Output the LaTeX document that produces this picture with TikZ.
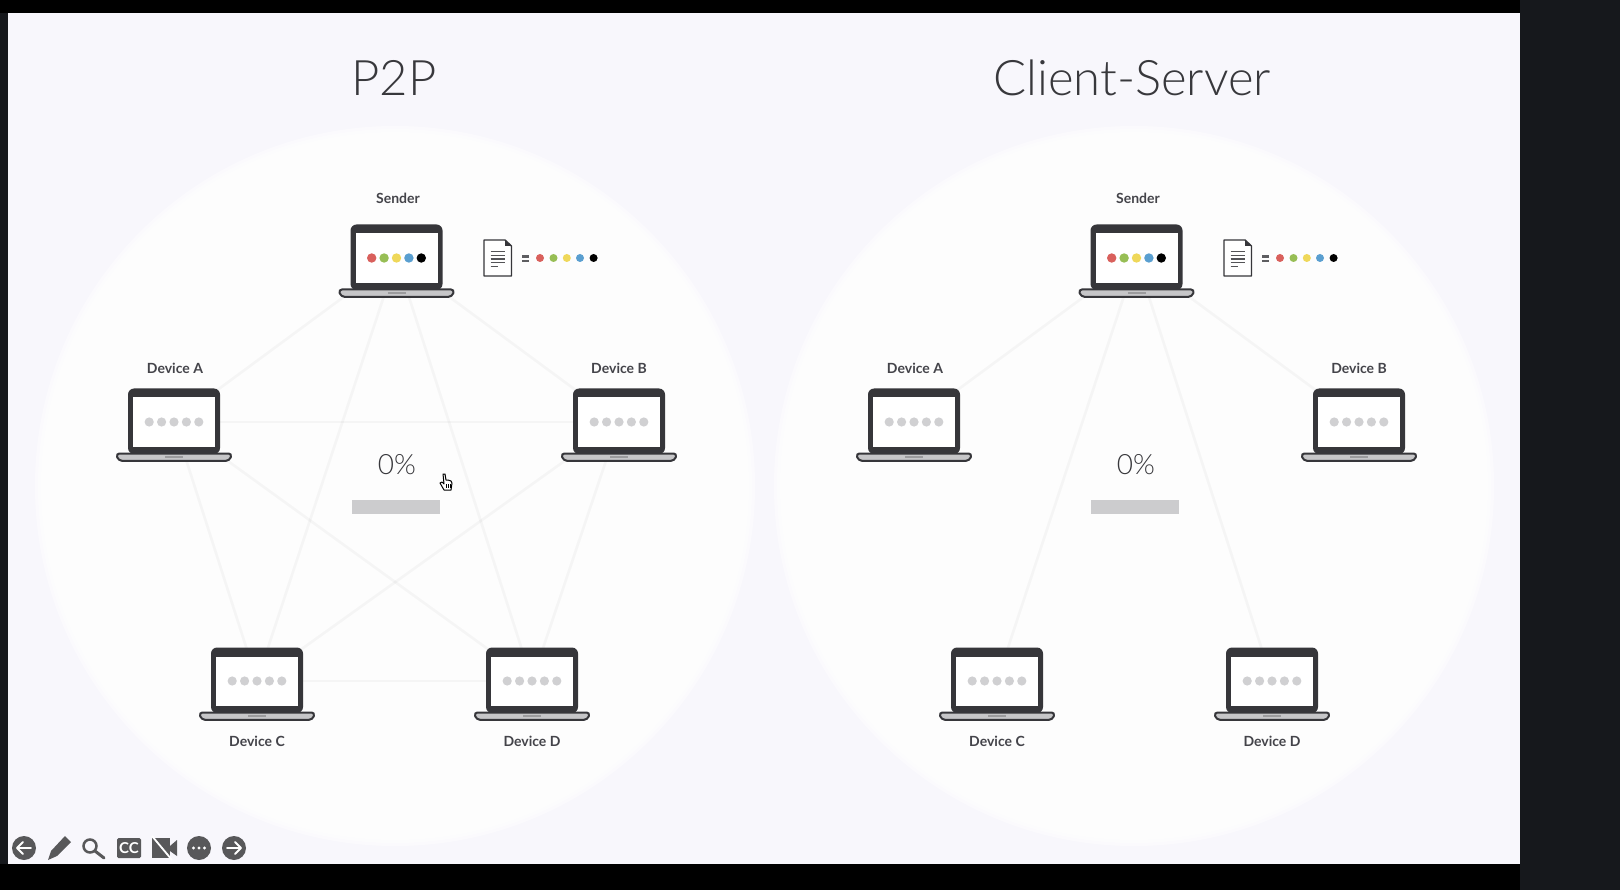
\documentclass[tikz,border=0pt]{standalone}
\usepackage{fontspec}
\setmainfont{Lato}
\newfontfamily\lightfont{Lato Light}
\usetikzlibrary{calc}
\definecolor{slidebg}{HTML}{F8F7FC}
\definecolor{discc}{HTML}{FFFFFF}
\definecolor{sidebar}{HTML}{16181C}
\definecolor{ink}{HTML}{38383C}
\definecolor{labelc}{HTML}{44444A}
\definecolor{frame}{HTML}{36363A}
\definecolor{basec}{HTML}{C6C6C8}
\definecolor{barc}{HTML}{CCCCCE}
\definecolor{dotgrey}{HTML}{D0D0D2}
\definecolor{dred}{HTML}{D9605C}
\definecolor{dgreen}{HTML}{97BE55}
\definecolor{dyellow}{HTML}{EFD85A}
\definecolor{dblue}{HTML}{5A9FD0}
\definecolor{tool}{HTML}{58585A}
\tikzset{
  x=1pt,y=-1pt,
  anchorpt/.style={inner sep=0pt,minimum size=0pt},
  edgeline/.style={draw=black!70,opacity=.042,line width=2.6pt},
  devlabel/.style={font=\fontsize{14}{15}\selectfont\bfseries,text=labelc,inner sep=0pt,anchor=center},
  heading/.style={font=\lightfont\fontsize{49}{55}\selectfont,text=ink,inner sep=0pt,anchor=center},
  pct/.style={font=\lightfont\fontsize{28}{30}\selectfont,text=ink,inner sep=0pt,anchor=center},
  barbox/.style={fill=barc,draw=none,minimum width=88pt,minimum height=14pt,inner sep=0pt},
  pics/laptop/.style={code={
    \fill[frame,rounded corners=6pt] (-46,-33.5) -- (46,-33.5) -- (46,32) -- (-46,32) -- cycle;
    \fill[white] (-41,-24.5) rectangle (41,25);
    \filldraw[fill=basec,draw=frame,line width=2pt,rounded corners=3.5pt] (-58,31.5) -- (58,31.5) -- (55.5,38.8) -- (-55.5,38.8) -- cycle;
    \draw[frame!50,line width=1.2pt] (-9,35) -- (9,35);
  }},
  pics/greydots/.style={code={
    \foreach \i in {-2,-1,0,1,2} \fill[dotgrey] (\i*12.4,0) circle (4.6);
  }},
  pics/colordots/.style={code={
    \fill[dred] (-24.8,0) circle (4.7); \fill[dgreen] (-12.4,0) circle (4.7);
    \fill[dyellow] (0,0) circle (4.7); \fill[dblue] (12.4,0) circle (4.7);
    \fill[black] (24.8,0) circle (4.7);
  }},
  pics/legend/.style={code={
    \draw[fill=white,draw=frame,line width=1.4pt,line join=round] (0,0) -- (21,0) -- (27.5,6) -- (27.5,36) -- (0,36) -- cycle;
    \fill[frame] (21,0) -- (27.5,6) -- (21,6) -- cycle;
    \foreach \y/\w in {11.5/20.5,15.3/20.5,19.1/20.5,22.9/20.5,26.7/13.5} \draw[frame!85,line width=1.2pt] (6.5,\y) -- (\w,\y);
    \fill[frame!80] (37.5,15.5) rectangle (44.5,17.6);
    \fill[frame!80] (37.5,19.6) rectangle (44.5,21.7);
    \fill[dred] (56,18) circle (4); \fill[dgreen] (69.5,18) circle (4);
    \fill[dyellow] (82.8,18) circle (4); \fill[dblue] (96,18) circle (4);
    \fill[black] (109.6,18) circle (4);
  }},
}
\begin{document}
\begin{tikzpicture}
\useasboundingbox (0,0) rectangle (1620,890);
% page frame
\fill[black] (0,0) rectangle (1620,890);
\fill[sidebar] (1520,0) rectangle (1620,890);
\fill[sidebar] (0,13) rectangle (8,864);
\fill[slidebg] (8,13) rectangle (1520,864);
% soft-edged discs
\foreach \c in {395,1134}{
  \foreach \r in {360,357,354,351,348,345}
    \fill[discc,opacity=.45] (\c,486) circle (\r);
}
% titles
\node[heading] (t1) at (394,78) {P2P};
\node[heading] (t2) at (1132,78) {Client-Server};
% device anchors, left panel
\node[anchorpt] (ls) at (396.5,258) {};
\node[anchorpt] (la) at (174,422) {};
\node[anchorpt] (lb) at (619,422) {};
\node[anchorpt] (lc) at (257,681) {};
\node[anchorpt] (ld) at (532,681) {};
% device anchors, right panel
\node[anchorpt] (rs) at (1136.5,258) {};
\node[anchorpt] (ra) at (914,422) {};
\node[anchorpt] (rb) at (1359,422) {};
\node[anchorpt] (rc) at (997,681) {};
\node[anchorpt] (rd) at (1272,681) {};
% connectors
\foreach \a/\b in {ls/la,ls/lb,ls/lc,ls/ld,la/lb,la/lc,la/ld,lb/lc,lb/ld,lc/ld,rs/ra,rs/rb,rs/rc,rs/rd}
  \draw[edgeline] (\a) -- (\b);
% laptops
\foreach \n in {ls,la,lb,lc,ld,rs,ra,rb,rc,rd}{
  \pic at (\n) {laptop};
}
\foreach \n in {la,lb,lc,ld,ra,rb,rc,rd} \pic at (\n) {greydots};
\pic at (ls) {colordots};
\pic at (rs) {colordots};
\pic at (484,240) {legend};
\pic at (1224,240) {legend};
% labels
\node[devlabel] (lsl) at (398,198.4) {Sender};
\node[devlabel] (lal) at (175,368) {Device A};
\node[devlabel] (lbl) at (619,368) {Device B};
\node[devlabel] (lcl) at (257,741.4) {Device C};
\node[devlabel] (ldl) at (532,741.4) {Device D};
\node[devlabel] (rsl) at (1138,198.4) {Sender};
\node[devlabel] (ral) at (915,368) {Device A};
\node[devlabel] (rbl) at (1359,368) {Device B};
\node[devlabel] (rcl) at (997,741.4) {Device C};
\node[devlabel] (rdl) at (1272,741.4) {Device D};
% progress
\node[pct] (p1) at (397,464.5) {0\%};
\node[pct] (p2) at (1136,464.5) {0\%};
\node[barbox] (b1) at (396,507) {};
\node[barbox] (b2) at (1135,507) {};
% cursor
\begin{scope}[shift={(446,482)}]
\filldraw[fill=white,draw=black,line width=1pt,line join=round] (-3,-8) -- (-1,-8) -- (0,-2) -- (2,-2) -- (5,-1) -- (6,1) -- (5,8) -- (-2,8) -- (-6,1) -- (-4,0) -- (-2,2) -- cycle;
\foreach \x in {0,2,4} \draw[black,line width=.7pt] (\x,2) -- (\x,6);
\end{scope}
% toolbar
\fill[tool] (24,848) circle (12);
\draw[white,line width=1.8pt,line cap=round,line join=round] (31,848) -- (17,848) (23,842) -- (17,848) -- (23,854);
\fill[tool] (48,860) -- (51,851) -- (65,836) -- (71,842) -- (57,856) -- cycle;
\draw[tool,line width=2.5pt] (90,846) circle (6.5);
\draw[tool,line width=3pt,line cap=round] (95,851) -- (104,858);
\fill[tool,rounded corners=1.5pt] (117,838) rectangle (141,858);
\node[font=\fontsize{15}{15}\selectfont\bfseries,text=white,inner sep=0pt] (cc) at (129,848) {CC};
\fill[tool] (152,838) rectangle (170,858);
\fill[tool] (170,846) -- (177,840) -- (177,856) -- (170,851) -- cycle;
\draw[white,line width=1.8pt] (152,836) -- (172,860);
\fill[tool] (199,848) circle (12);
\foreach \x in {193.5,199,204.5} \fill[white] (\x,848) circle (1.6);
\fill[tool] (234,848) circle (12);
\draw[white,line width=1.8pt,line cap=round,line join=round] (227,848) -- (241,848) (235,842) -- (241,848) -- (235,854);
\end{tikzpicture}
\end{document}
